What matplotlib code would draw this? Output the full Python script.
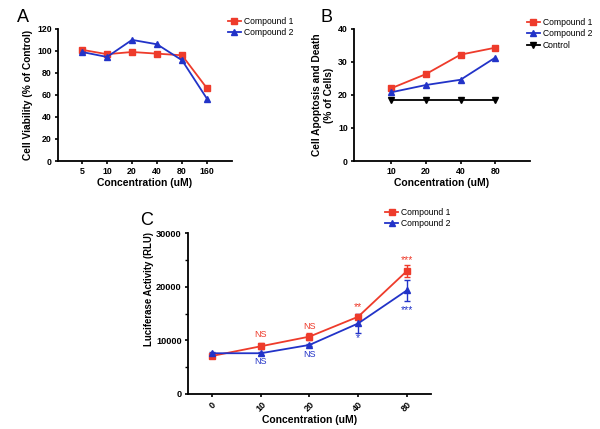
import matplotlib
matplotlib.use("Agg")
import matplotlib.pyplot as plt
from matplotlib.ticker import MultipleLocator
from matplotlib.lines import Line2D

plt.rcParams['font.family'] = ['Liberation Sans', 'DejaVu Sans']

RED = '#ee3b2b'
BLUE = '#2233c8'

# Panel A
a_labels = ['5', '10', '20', '40', '80', '160']
a_c1 = [101, 97, 99, 97.5, 96, 66]
a_c2 = [99, 94.5, 110, 106, 91.5, 56.5]

# Panel B
b_labels = ['10', '20', '40', '80']
b_c1 = [22.0, 26.3, 32.2, 34.3]
b_c2 = [20.8, 23.0, 24.6, 31.3]
b_ctrl = [18.6, 18.6, 18.6, 18.6]

# Panel C
c_labels = ['0', '10', '20', '40', '80']
c_c1 = [7100, 8900, 10700, 14400, 22900]
c_c1_err = [400, 600, 600, 500, 1100]
c_c2 = [7600, 7600, 9150, 13150, 19300]
c_c2_err = [250, 250, 250, 1700, 1950]
c_c1_sig = ['', 'NS', 'NS', '**', '***']
c_c1_sig_y = [0, 11100, 12500, 16300, 25000]
c_c2_sig = ['', 'NS', 'NS', '*', '***']
c_c2_sig_y = [0, 6000, 7400, 10500, 15700]

fig = plt.figure(figsize=(6, 4.29), dpi=100)

def style(ax, ls=6.3):
    for s in ['top', 'right']:
        ax.spines[s].set_visible(False)
    for s in ['left', 'bottom']:
        ax.spines[s].set_linewidth(1.3)
    ax.tick_params(axis='both', width=1.2, length=2.5, labelsize=ls, pad=2)
    for lab in ax.get_xticklabels() + ax.get_yticklabels():
        lab.set_fontweight('bold')

lkw = dict(lw=1.3, ms=4)
legkw = dict(loc='upper left', frameon=False, fontsize=6.2, handlelength=1.5,
             handletextpad=0.35, labelspacing=0.3, borderpad=0, borderaxespad=0)

def handle(marker, color):
    return Line2D([], [], color=color, marker=marker, lw=1.3, ms=4)

# A
axA = fig.add_axes([0.0967, 0.6247, 0.29, 0.308])
xa = range(len(a_labels))
axA.plot(xa, a_c1, '-s', color=RED, **lkw)
axA.plot(xa, a_c2, '-^', color=BLUE, **lkw)
axA.set_xlim(-0.96, 6)
axA.set_ylim(0, 120)
axA.set_yticks(range(0, 121, 20))
axA.set_xticks(list(xa))
axA.set_xticklabels(a_labels)
axA.set_xlabel('Concentration (uM)', fontsize=7.5, fontweight='bold', labelpad=1)
axA.set_ylabel('Cell Viability (% of Control)', fontsize=7.3, fontweight='bold', labelpad=3)
style(axA)
fig.legend([handle('s', RED), handle('^', BLUE)], ['Compound 1', 'Compound 2'],
           bbox_to_anchor=(0.38, 0.961), **legkw)
fig.text(0.038, 0.96, 'A', fontsize=13, va='center', ha='center')

# B
axB = fig.add_axes([0.59, 0.6247, 0.2933, 0.308])
xb = range(len(b_labels))
axB.plot(xb, b_c1, '-s', color=RED, **lkw)
axB.plot(xb, b_c2, '-^', color=BLUE, **lkw)
axB.plot(xb, b_ctrl, '-v', color='black', **lkw)
axB.set_xlim(-1.07, 4)
axB.set_ylim(0, 40)
axB.set_yticks(range(0, 41, 10))
axB.set_xticks(list(xb))
axB.set_xticklabels(b_labels)
axB.set_xlabel('Concentration (uM)', fontsize=7.5, fontweight='bold', labelpad=1)
axB.set_ylabel('Cell Apoptosis and Death\n(% of Cells)', fontsize=7.3, fontweight='bold', labelpad=3)
style(axB)
fig.legend([handle('s', RED), handle('^', BLUE), handle('v', 'black')],
           ['Compound 1', 'Compound 2', 'Control'],
           bbox_to_anchor=(0.878, 0.959), **legkw)
fig.text(0.545, 0.96, 'B', fontsize=13, va='center', ha='center')

# C
axC = fig.add_axes([0.3133, 0.0816, 0.405, 0.375])
xc = list(range(len(c_labels)))
axC.errorbar(xc, c_c1, yerr=c_c1_err, fmt='-s', color=RED,
             capsize=2.5, elinewidth=1.0, capthick=1.0, **lkw)
axC.errorbar(xc, c_c2, yerr=c_c2_err, fmt='-^', color=BLUE,
             capsize=2.5, elinewidth=1.0, capthick=1.0, **lkw)
for x, t, y in zip(xc, c_c1_sig, c_c1_sig_y):
    if t:
        axC.text(x, y, t, color=RED, fontsize=6.5 if t == 'NS' else 7.5,
                 ha='center', va='center')
for x, t, y in zip(xc, c_c2_sig, c_c2_sig_y):
    if t:
        axC.text(x, y, t, color=BLUE, fontsize=6.5 if t == 'NS' else 7.5,
                 ha='center', va='center')
axC.set_xlim(-0.5, 4.5)
axC.set_ylim(0, 30000)
axC.set_yticks(range(0, 30001, 10000))
axC.yaxis.set_minor_locator(MultipleLocator(5000))
axC.set_xticks(xc)
axC.set_xticklabels(c_labels, rotation=45, ha='center')
axC.set_xlabel('Concentration (uM)', fontsize=7.5, fontweight='bold', labelpad=1)
axC.set_ylabel('Luciferase Activity (RLU)', fontsize=6.9, fontweight='bold')
axC.yaxis.set_label_coords(-0.138, 0.652)
style(axC, ls=6.6)
axC.tick_params(axis='y', which='minor', width=1.0, length=2)
fig.legend([handle('s', RED), handle('^', BLUE)], ['Compound 1', 'Compound 2'],
           bbox_to_anchor=(0.642, 0.516), **legkw)
fig.text(0.245, 0.485, 'C', fontsize=13, va='center', ha='center')

fig.savefig('out.png', dpi=100)
